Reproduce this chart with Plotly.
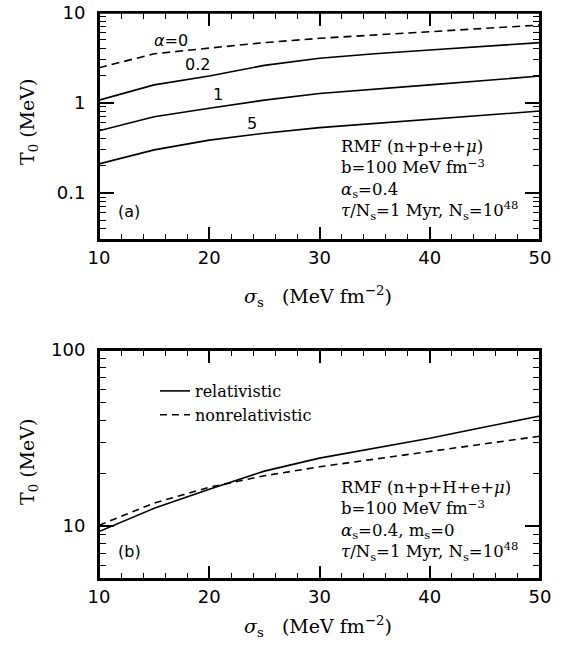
import plotly.graph_objects as go
import numpy as np

# ---- data ----
sigma = [10, 15, 20, 25, 30, 35, 40, 45, 50]
# panel (a): T0 vs sigma_s for several alpha
T_alpha0 = [2.45, 3.5, 4.05, 4.65, 5.2, 5.7, 6.15, 6.7, 7.3]
T_alpha02 = [1.07, 1.58, 1.98, 2.6, 3.12, 3.5, 3.85, 4.25, 4.66]
T_alpha1 = [0.49, 0.70, 0.87, 1.07, 1.27, 1.43, 1.58, 1.77, 1.98]
T_alpha5 = [0.21, 0.30, 0.385, 0.46, 0.53, 0.59, 0.65, 0.72, 0.81]
# panel (b): relativistic vs nonrelativistic
T_rel = [9.3, 12.6, 16.2, 20.5, 24.3, 27.8, 31.5, 36.5, 42.2]
T_nonrel = [10.1, 13.5, 16.6, 19.3, 21.7, 24.0, 26.4, 29.3, 32.4]

x_ticks = [10, 20, 30, 40, 50]
x_minor = [12, 14, 16, 18, 22, 24, 26, 28, 32, 34, 36, 38, 42, 44, 46, 48]
ya_ticks = [0.1, 1, 10]
ya_labels = ["0.1", "1", "10"]
yb_ticks = [10, 100]
yb_labels = ["10", "100"]

W, H = 569, 647
def px(x):
    return x / W
def py(y):
    return 1 - y / H

fig = go.Figure()

line_w = 1.6
fig.add_trace(go.Scatter(x=sigma, y=T_alpha0, mode="lines", line=dict(color="black", width=line_w, dash="8px,5px"), showlegend=False, xaxis="x", yaxis="y"))
fig.add_trace(go.Scatter(x=sigma, y=T_alpha02, mode="lines", line=dict(color="black", width=line_w), showlegend=False, xaxis="x", yaxis="y"))
fig.add_trace(go.Scatter(x=sigma, y=T_alpha1, mode="lines", line=dict(color="black", width=line_w), showlegend=False, xaxis="x", yaxis="y"))
fig.add_trace(go.Scatter(x=sigma, y=T_alpha5, mode="lines", line=dict(color="black", width=line_w), showlegend=False, xaxis="x", yaxis="y"))

fig.add_trace(go.Scatter(x=sigma, y=T_rel, mode="lines", name="relativistic", line=dict(color="black", width=line_w), xaxis="x2", yaxis="y2"))
fig.add_trace(go.Scatter(x=sigma, y=T_nonrel, mode="lines", name="nonrelativistic", line=dict(color="black", width=line_w, dash="7px,5px"), xaxis="x2", yaxis="y2"))

tickfont = dict(family="DejaVu Sans", size=18, color="black")
xdom = [px(99), px(540)]
ya_dom = [py(240), py(12.7)]
yb_dom = [py(579), py(350)]
ya_range = [np.log10(0.03), 1]
yb_range = [np.log10(5), 2]

def minor_vals(lo_dec, hi_dec):
    vals = []
    for d in range(lo_dec, hi_dec):
        for m in range(2, 10):
            vals.append(m * 10 ** d)
    return vals

ya_minor = [v for v in minor_vals(-2, 1) if 0.03 <= v <= 10]
yb_minor = [v for v in minor_vals(0, 2) if 5 <= v <= 100]

def xax(anchor):
    return dict(domain=xdom, anchor=anchor, range=[10, 50], tickmode="array", tickvals=x_ticks,
                ticks="inside", ticklen=13, tickwidth=1.5, tickcolor="black",
                showline=True, linewidth=2, linecolor="black", mirror="allticks", showgrid=False,
                zeroline=False, tickfont=tickfont, automargin=False,
                minor=dict(tickmode="array", tickvals=x_minor, ticks="inside", ticklen=6,
                           tickwidth=1.3, tickcolor="black", showgrid=False))

def yax(anchor, dom, rng, tv, tt, mv):
    return dict(domain=dom, anchor=anchor, type="log", range=rng,
                tickmode="array", tickvals=tv, ticktext=tt,
                ticks="inside", ticklen=15, tickwidth=1.5, tickcolor="black",
                showline=True, linewidth=2, linecolor="black", mirror="allticks", showgrid=False,
                zeroline=False, tickfont=tickfont, automargin=False, ticklabelstandoff=8,
                minor=dict(tickmode="array", tickvals=mv, ticks="inside", ticklen=7, tickwidth=1.3,
                           tickcolor="black", showgrid=False))

fig.update_layout(
    width=W, height=H, margin=dict(l=0, r=0, t=0, b=0, autoexpand=False),
    paper_bgcolor="white", plot_bgcolor="white",
    xaxis=xax("y"),
    yaxis=yax("x", ya_dom, ya_range, ya_ticks, ya_labels, ya_minor),
    xaxis2=xax("y2"),
    yaxis2=yax("x2", yb_dom, yb_range, yb_ticks, yb_labels, yb_minor),
    legend=dict(x=px(155), y=py(374), xanchor="left", yanchor="top", bgcolor="rgba(0,0,0,0)",
                font=dict(family="DejaVu Serif", size=16, color="black"), tracegroupgap=0),
    showlegend=True,
)

# frame of each panel
for xr, yr in (("x domain", "y domain"), ("x2 domain", "y2 domain")):
    fig.add_shape(type="rect", xref=xr, yref=yr, x0=0, x1=1, y0=0, y1=1,
                  line=dict(color="black", width=2), fillcolor="rgba(0,0,0,0)", layer="above")

serif = dict(family="DejaVu Serif", size=16.5, color="black")
sans = dict(family="DejaVu Sans", size=16, color="black")
ann = []
def add(text, x, y, font, xanchor="left", yanchor="middle", angle=0):
    ann.append(dict(text=text, x=x, y=y, xref="paper", yref="paper", showarrow=False, align="left",
                    xanchor=xanchor, yanchor=yanchor, font=font, textangle=angle))

dy = 2  # visual centring correction
# panel (a) info
add("RMF (n+p+e+<i>μ</i>)<br>b=100 MeV fm<sup>−3</sup><br><i>α</i><sub>s</sub>=0.4<br>"
    "<i>τ</i>/N<sub>s</sub>=1 Myr, N<sub>s</sub>=10<sup>48</sup>", px(339), py(180), serif)
add("(a)", px(116), py(213 - dy), sans)
# curve labels
add("<i>α</i>=0", px(171), py(43 - dy), sans, xanchor="center")
add("0.2", px(197), py(67 - dy), sans, xanchor="center")
add("1", px(218), py(96 - dy), sans, xanchor="center")
add("5", px(252), py(126 - dy), sans, xanchor="center")

# panel (b) info
add("RMF (n+p+H+e+<i>μ</i>)<br>b=100 MeV fm<sup>−3</sup><br><i>α</i><sub>s</sub>=0.4, m<sub>s</sub>=0<br>"
    "<i>τ</i>/N<sub>s</sub>=1 Myr, N<sub>s</sub>=10<sup>48</sup>", px(339), py(521), serif)
add("(b)", px(116), py(553 - dy), sans)

# axis titles
title_font = dict(family="DejaVu Serif", size=19, color="black")
add("<i>σ</i><sub>s</sub>   (MeV fm<sup>−2</sup>)", px(318), py(296), title_font, xanchor="center")
add("<i>σ</i><sub>s</sub>   (MeV fm<sup>−2</sup>)", px(318), py(626), title_font, xanchor="center")
add("T<sub>0</sub> (MeV)", px(28), py(122), title_font, xanchor="center", angle=-90)
add("T<sub>0</sub> (MeV)", px(28), py(462), title_font, xanchor="center", angle=-90)

fig.update_layout(annotations=ann)
fig.write_html("out.html")
